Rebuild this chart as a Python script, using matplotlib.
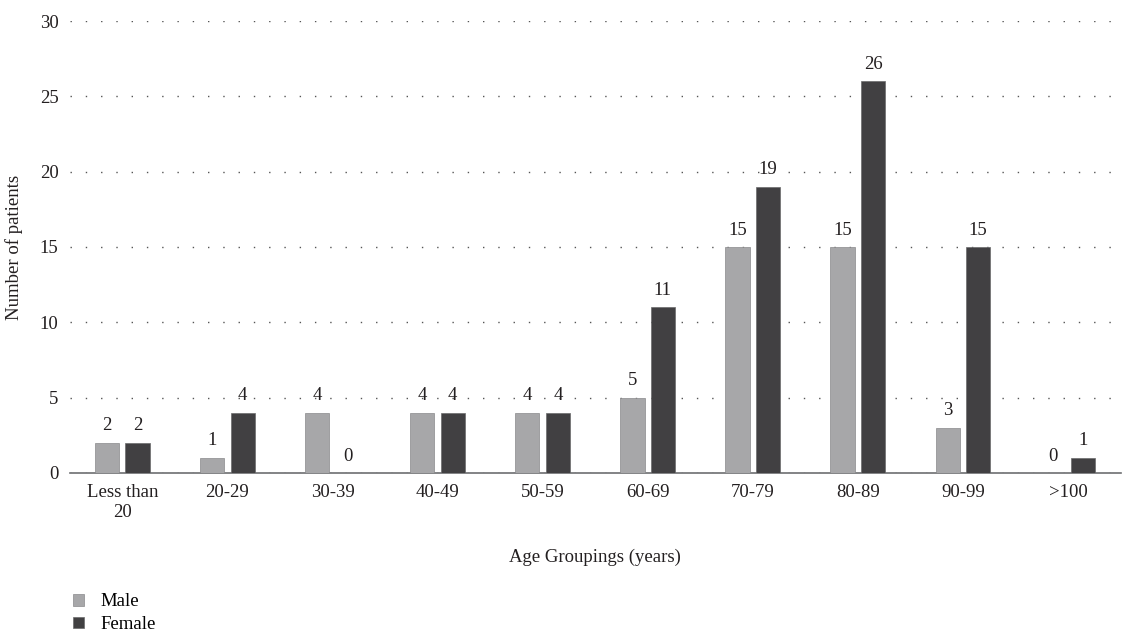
import numpy as np
import matplotlib.pyplot as plt

plt.rcParams['font.family'] = ['Liberation Serif', 'DejaVu Serif']

groups = ['Less than\n20', '20-29', '30-39', '40-49', '50-59', '60-69',
          '70-79', '80-89', '90-99', '>100']
male = [2, 1, 4, 4, 4, 5, 15, 15, 3, 0]
female = [2, 4, 0, 4, 4, 11, 19, 26, 15, 1]

male_color = '#a7a7a9'
female_color = '#414042'
text_color = '#231f20'
fs = 13.5

fig = plt.figure(figsize=(11.25, 6.39), dpi=100)
ax = fig.add_axes([0.062, 0.26, 0.934, 0.707])

x = np.arange(len(groups))
w = 0.23
off = 0.145
b1 = ax.bar(x - off, male, w, color=male_color, edgecolor='#8a8a8c', linewidth=0.5,
            label='Male', zorder=3)
b2 = ax.bar(x + off, female, w, color=female_color, edgecolor='#6a6a6c', linewidth=0.5,
            label='Female', zorder=3)
ax.bar_label(b1, padding=6, fontsize=fs, color=text_color)
ax.bar_label(b2, padding=6, fontsize=fs, color=text_color)

ax.set_xlim(-0.5, len(groups) - 0.5)
ax.set_ylim(0, 30)
ax.set_yticks(range(0, 31, 5))
ax.set_xticks(x)
ax.set_xticklabels(groups)
ax.tick_params(length=0, labelsize=fs, colors=text_color)
ax.tick_params(axis='x', pad=8)
ax.tick_params(axis='y', pad=8)

ax.yaxis.grid(True, linestyle=(0, (1, 10)), color='#555555', linewidth=1.0, zorder=0)
ax.set_axisbelow(True)
for s in ['top', 'right', 'left']:
    ax.spines[s].set_visible(False)
ax.spines['bottom'].set_color('#6d6e71')
ax.spines['bottom'].set_linewidth(1.2)

ax.set_xlabel('Age Groupings (years)', fontsize=fs, color=text_color, labelpad=20)
ax.set_ylabel('Number of patients', fontsize=fs, color=text_color, labelpad=12)

fig.legend(handles=[b1, b2], loc='upper left', bbox_to_anchor=(0.058, 0.083),
           frameon=False, fontsize=fs, handlelength=0.6, handleheight=0.6,
           handletextpad=0.9, labelspacing=0.3, borderaxespad=0)

fig.savefig('out.png', dpi=100)
